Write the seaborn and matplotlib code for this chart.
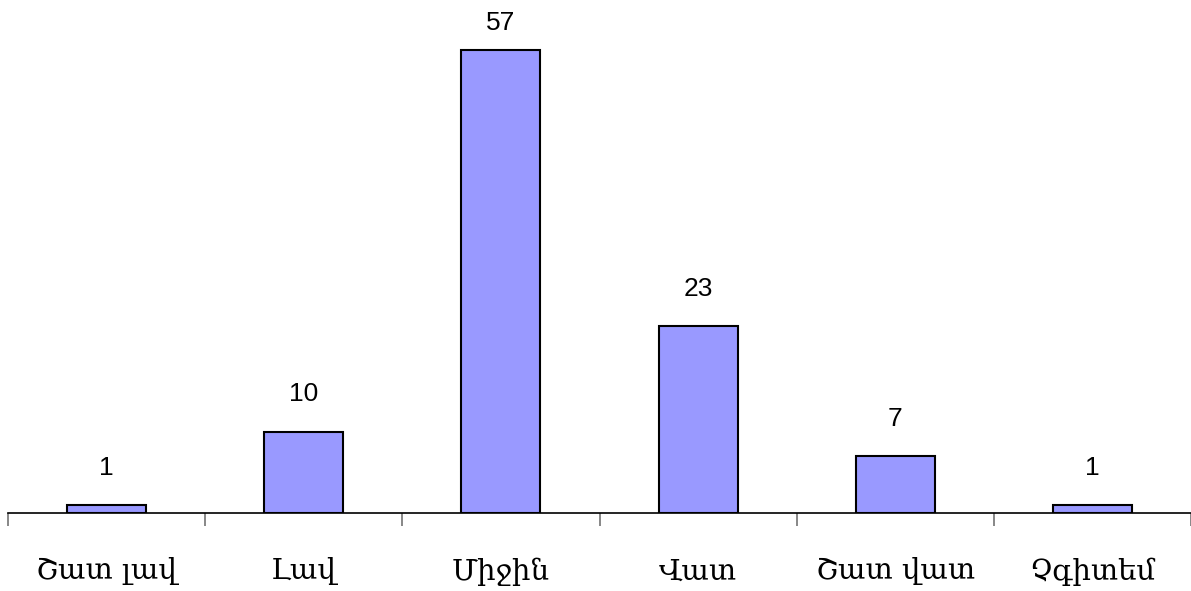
import matplotlib
matplotlib.use("Agg")
import matplotlib.pyplot as plt
import seaborn as sns
import pandas as pd

categories = ["Շատ լավ", "Լավ", "Միջին", "Վատ", "Շատ վատ", "Չգիտեմ"]
values = [1, 10, 57, 23, 7, 1]

sns.set_theme(style="white")
plt.rcParams["font.family"] = ["DejaVu Serif", "DejaVu Sans"]
plt.rcParams["text.color"] = "black"
plt.rcParams["xtick.color"] = "black"

df = pd.DataFrame({"category": categories, "value": values})

fig = plt.figure(figsize=(11.91, 5.91), dpi=100)
ax = fig.add_axes([8 / 1191, 78 / 591, 1 - 8 / 1191, 1 - 78 / 591 - 26 / 591])

sns.barplot(data=df, x="category", y="value", color="#9999FF", width=0.4,
            edgecolor="black", linewidth=1.5, saturation=1, ax=ax)

for i, v in enumerate(values):
    ax.text(i, min(v + 4.6, 60.4), str(v), ha="center", va="center", fontsize=19,
            family=["Liberation Sans", "DejaVu Sans"], color="black")

ax.set_xlim(-0.5, 5.5)
ax.set_ylim(0, 60)
ax.set_xlabel("")
ax.set_ylabel("")
ax.set_yticks([])

# boundary ticks between categories, labels centred on bars
ax.set_xticks([i - 0.5 for i in range(len(categories) + 1)])
ax.set_xticklabels([])
ax.tick_params(axis="x", which="major", direction="out", length=9, width=1.2,
               color="0.45", bottom=True)
ax.set_xticks(range(len(categories)), minor=True)
ax.set_xticklabels(categories, minor=True, fontsize=21, color="black",
                   family=["DejaVu Serif", "DejaVu Sans"])
ax.tick_params(axis="x", which="minor", length=0, pad=32)

for side in ["top", "left", "right"]:
    ax.spines[side].set_visible(False)
ax.spines["bottom"].set_color("black")
ax.spines["bottom"].set_linewidth(1.2)

fig.savefig("out.png", dpi=100)
plt.close()
